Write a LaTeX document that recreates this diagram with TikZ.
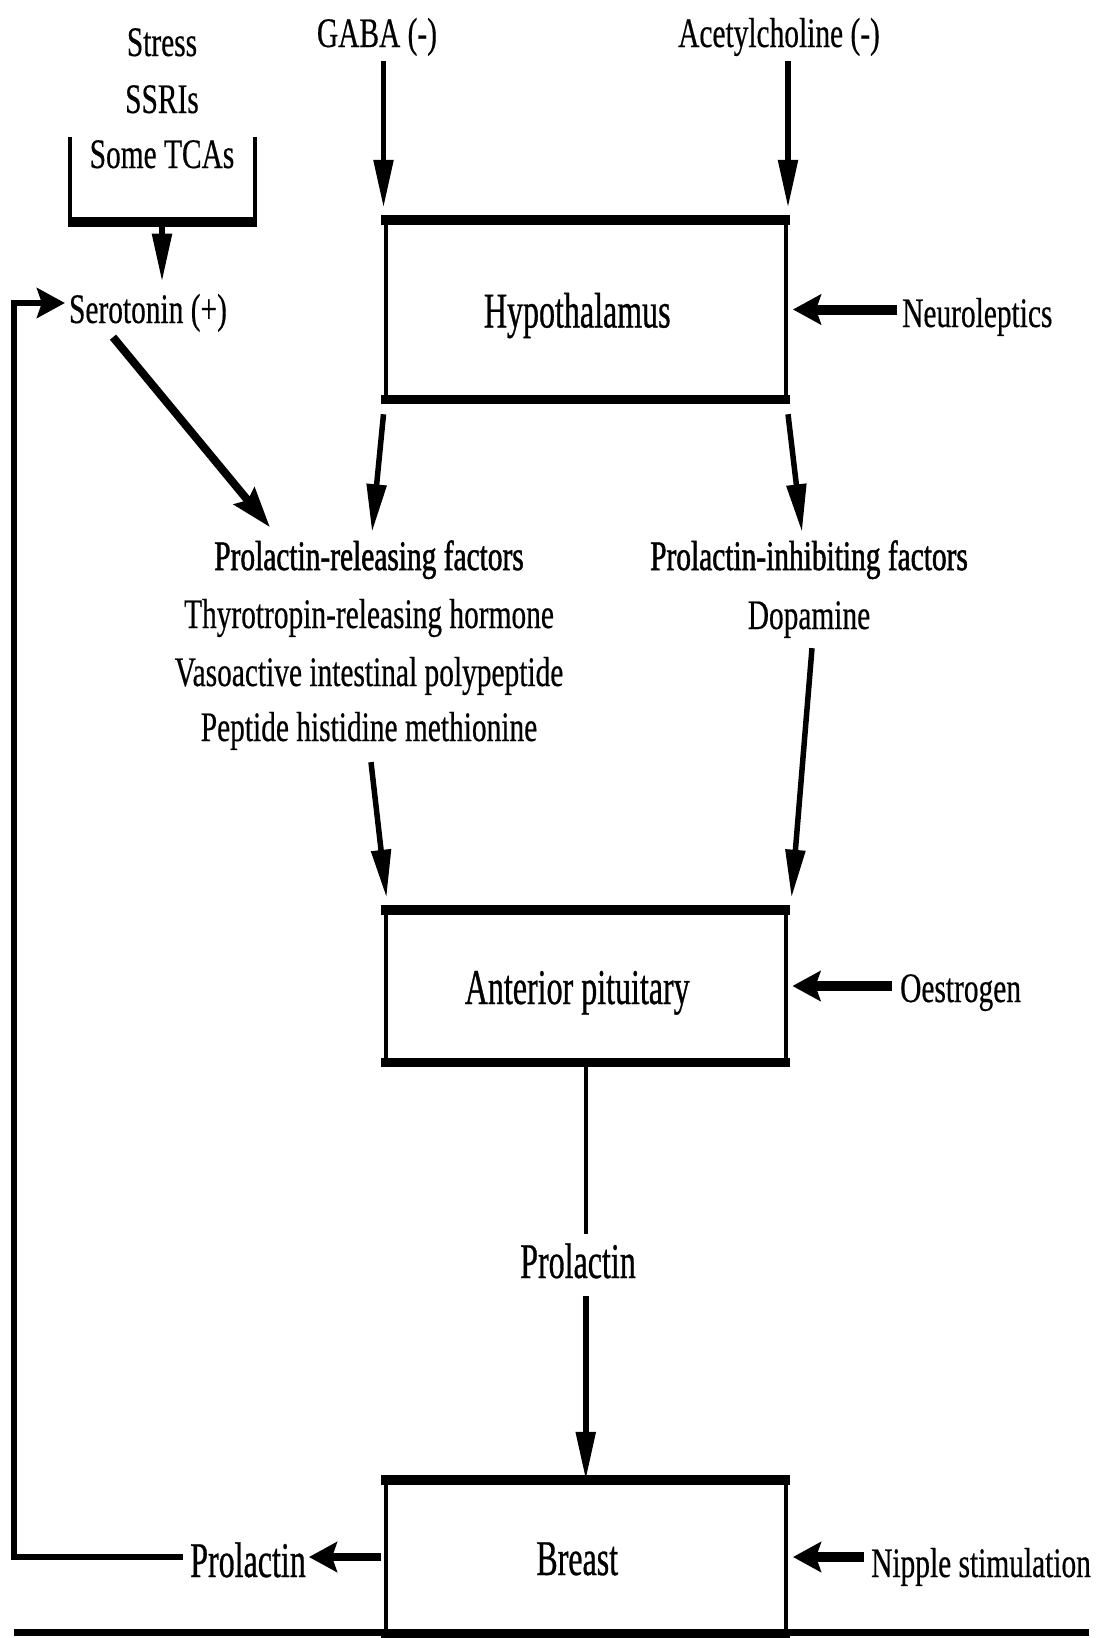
\documentclass[tikz,border=0pt]{standalone}
\usepackage{fontspec}
\newfontfamily\smallfnt[FakeStretch=0.7,FakeBold=0.4]{Liberation Serif}
\newfontfamily\headfnt[FakeStretch=0.7,FakeBold=1.2]{Liberation Serif}
\newfontfamily\bigfnt[FakeStretch=0.64,FakeBold=0.6]{Liberation Serif}
\usetikzlibrary{arrows.meta}

\begin{document}
\begin{tikzpicture}[x=1pt,y=-1pt,
  sm/.style={font=\smallfnt\fontsize{42pt}{48pt}\selectfont, inner sep=0pt, anchor=base},
  hd/.style={font=\headfnt\fontsize{42pt}{48pt}\selectfont, inner sep=0pt, anchor=base},
  lg/.style={font=\bigfnt\fontsize{50pt}{56pt}\selectfont, inner sep=0pt, anchor=base},
  box/.style={draw, line width=4.5pt, minimum width=400pt, inner sep=0pt,
    font=\bigfnt\fontsize{50pt}{56pt}\selectfont, text height=36pt, text depth=0pt},
  edge/.style={line width=9.5pt},
  varrow/.style={line width=5.5pt, -{Triangle[length=48pt,width=19pt]}},
  harrow/.style={line width=10pt, -{Stealth[length=28pt,width=30pt,inset=5pt]}},
  darrow/.style={line width=8pt, -{Stealth[length=40pt,width=26pt,inset=5pt]}},
  fbline/.style={line width=5.5pt, line join=miter, -{Stealth[length=28pt,width=30pt,inset=5pt]}},
  plain/.style={line width=4.5pt}]
\useasboundingbox (0,0) rectangle (1102,1638);

% inputs acting on serotonin
\node[sm] (stress) at (162,56) {Stress};
\node[sm] (ssri) at (162,113) {SSRIs};
\node[sm] (tca) at (162,168) {Some TCAs};
\draw[plain] (70,137) -- (70,226);
\draw[plain] (255,137) -- (255,226);
\draw[edge] (67.75,222) -- (257.25,222);
\coordinate (brk) at (162,222);

\node[sm] (sero) at (148,323) {Serotonin (+)};
\draw[varrow, shorten <=4.5pt, shorten >=12pt] (brk) -- (brk |- sero.north);

% neurotransmitter inputs to the hypothalamus
\node[sm] (gaba) at (377,47) {GABA (-)};
\node[sm] (ach) at (779,47) {Acetylcholine (-)};

% boxes
\node[box, minimum height=175pt] (hyp) at (585.75,309.5) {Hypothalamus\hspace*{17pt}};
\node[box, minimum height=148pt] (ant) at (585.75,986) {Anterior pituitary\hspace*{17pt}};
\node[box, minimum height=150pt] (breast) at (585.75,1557) {Breast\hspace*{17pt}};
\foreach \b in {hyp,ant,breast}{
  \draw[edge] ([xshift=-2.25pt]\b.north west) -- ([xshift=2.25pt]\b.north east);
  \draw[edge] ([xshift=-2.25pt]\b.south west) -- ([xshift=2.25pt]\b.south east);
}

\draw[varrow, shorten <=5pt] (hyp.north west |- gaba.south) -- ([yshift=12pt]hyp.north west);
\draw[varrow, shorten <=5pt] (hyp.north east |- ach.south) -- ([yshift=12pt]hyp.north east);

% side inputs
\node[sm, anchor=base west] (neuro) at (902,327) {Neuroleptics};
\draw[harrow, shorten <=5pt, shorten >=5pt] (neuro.west |- hyp) -- (hyp.east);
\node[sm, anchor=base west] (oest) at (900,1002) {Oestrogen};
\draw[harrow, shorten <=8pt, shorten >=4.5pt] (oest.west |- ant) -- (ant.east);
\node[sm, anchor=base west] (nip) at (871,1577) {Nipple stimulation};
\draw[harrow, shorten <=7pt, shorten >=5pt] (nip.west |- breast) -- (breast.east);

% releasing and inhibiting factors
\node[hd] (prf) at (369,570) {Prolactin-releasing factors};
\node[sm] (trh) at (369,628) {Thyrotropin-releasing hormone};
\node[sm] (vip) at (369,686) {Vasoactive intestinal polypeptide};
\node[sm] (phm) at (369,741) {Peptide histidine methionine};
\node[hd] (pif) at (809,570) {Prolactin-inhibiting factors};
\node[sm] (dopa) at (809,629) {Dopamine};

\draw[darrow] ([xshift=-35pt,yshift=-5pt]sero.south) -- ([xshift=-99pt,yshift=13pt]prf.north);
\draw[varrow] ([yshift=-15pt]hyp.south west) -- ([xshift=3pt,yshift=8pt]prf.north);
\draw[varrow] ([yshift=-15pt]hyp.south east) -- ([xshift=-7pt,yshift=8pt]pif.north);
\draw[varrow] ([xshift=2pt,yshift=-12pt]phm.south) -- ([xshift=3pt,yshift=12pt]ant.north west);
\draw[varrow] ([xshift=3pt,yshift=-10pt]dopa.south) -- ([xshift=3.5pt,yshift=12pt]ant.north east);

% prolactin output
\node[lg] (prol) at (578,1278) {Prolactin};
\draw[plain, shorten <=4.75pt, shorten >=9pt] (ant.south) -- (ant.south |- prol.north);
\draw[varrow, shorten <=17pt] (ant.south |- prol.south) -- (breast.north);

% feedback from the breast
\node[lg, anchor=base east] (prol2) at (306,1577) {Prolactin};
\draw[line width=8pt, -{Stealth[length=28pt,width=30pt,inset=5pt]}, shorten <=2.25pt, shorten >=3pt]
  (breast.west) -- (prol2.east |- breast.west);
\coordinate (fbl) at (14,1557);
\coordinate (fbt) at (14,303);
\draw[fbline, shorten <=7pt, shorten >=4pt] (prol2.west |- fbl) -- (fbl) -- (fbt) -- (sero.west |- fbt);

% base rule
\draw[line width=7pt] (14,1632) -- (1089,1632);
\end{tikzpicture}
\end{document}
